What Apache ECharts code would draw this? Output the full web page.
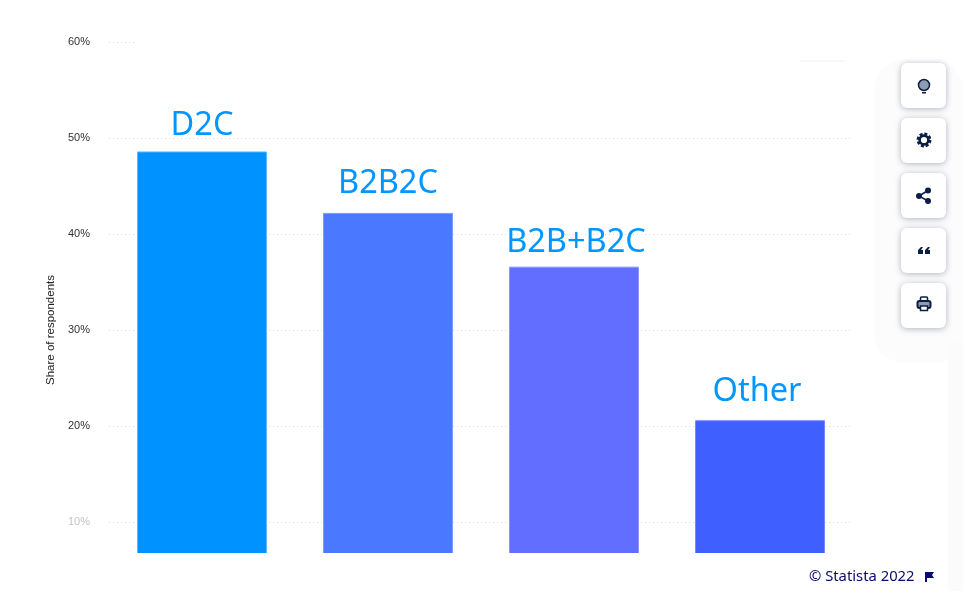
<!DOCTYPE html>
<html><head><meta charset="utf-8">
<style>html,body{margin:0;padding:0;background:#fff;overflow:hidden;width:963px;height:591px}#c{width:963px;height:640px}</style>
<script src="https://cdn.jsdelivr.net/npm/echarts@6/dist/echarts.min.js"></script>
</head><body><div id="c"></div>
<script>
const categories = ['D2C', 'B2B2C', 'B2B+B2C', 'Other'];
const shares = [48.6, 42.2, 36.6, 20.6];
const barColors = ['#0092ff', '#4a78ff', '#626eff', '#3f5fff'];
const edgeColors = ['#5cb8ff', '#7c9dff', '#8f95ff', '#7188ff'];
const labelNudges = [[0, 0], [0, -3], [2, 2], [-3, -3]];
const faintTicks = [10];

const chart = echarts.init(document.getElementById('c'), null, {renderer: 'canvas'});
const iconColor = '#0b1f44';
const btnTops = [63, 118, 173, 228, 283];
const buttons = btnTops.map(y => ({
  type: 'rect', z: 50, shape: {x: 901, y: y, width: 45, height: 45, r: 6},
  style: {fill: '#fff', shadowBlur: 6, shadowColor: 'rgba(40,50,80,0.35)', shadowOffsetY: 1}
}));
const quote = x => [[x,254],[x,250],[x+3,247],[x+5,247],[x+3,250],[x+5,250],[x+5,254]];
const icons = [
  {type:'circle', z:51, shape:{cx:924, cy:85, r:5.5}, style:{fill:'#8f9bb0', stroke:iconColor, lineWidth:1.5}},
  {type:'rect', z:51, shape:{x:922, y:92, width:4, height:1.5}, style:{fill:iconColor}},
  {type:'circle', z:51, shape:{cx:924, cy:140, r:6.2}, style:{fill:'none', stroke:iconColor, lineWidth:2.5, lineDash:[3,1.8]}},
  {type:'circle', z:51, shape:{cx:924, cy:140, r:4.4}, style:{fill:'#fff', stroke:iconColor, lineWidth:2.6}},
  {type:'circle', z:51, shape:{cx:919, cy:196, r:3}, style:{fill:iconColor}},
  {type:'circle', z:51, shape:{cx:928, cy:190.5, r:3}, style:{fill:iconColor}},
  {type:'circle', z:51, shape:{cx:928, cy:201, r:3}, style:{fill:iconColor}},
  {type:'polyline', z:51, shape:{points:[[928,190.5],[919,196],[928,201]]}, style:{stroke:iconColor, lineWidth:1.5, fill:'none'}},
  {type:'polygon', z:51, shape:{points:quote(918)}, style:{fill:iconColor}},
  {type:'polygon', z:51, shape:{points:quote(925)}, style:{fill:iconColor}},
  {type:'rect', z:51, shape:{x:920.5, y:297, width:7, height:5, r:1}, style:{fill:'#fff', stroke:iconColor, lineWidth:1.5}},
  {type:'rect', z:51, shape:{x:917.5, y:301, width:13, height:7, r:2}, style:{fill:'#8f9bb0', stroke:iconColor, lineWidth:2}},
  {type:'rect', z:51, shape:{x:920.5, y:306, width:7, height:4.5}, style:{fill:'#fff', stroke:iconColor, lineWidth:1.5}}
];
chart.setOption({
  animation: false,
  backgroundColor: '#fff',
  grid: {left: 109, top: 42, width: 744, height: 576, containLabel: false},
  xAxis: {type: 'category', data: categories, axisLine: {show: false}, axisTick: {show: false}, axisLabel: {show: false}},
  yAxis: {
    type: 'value', min: 0, max: 60, interval: 10,
    name: 'Share of respondents', nameLocation: 'middle', nameRotate: 90, nameGap: 52,
    nameTextStyle: {color: '#222', fontFamily: 'Liberation Sans', fontSize: 11.5},
    axisLine: {show: false}, axisTick: {show: false},
    axisLabel: {
      formatter: v => Number(v) === 0 ? '' : v + '%', margin: 19,
      fontFamily: 'Liberation Sans', fontSize: 11, padding: [3, 0, 0, 0],
      color: v => faintTicks.includes(Number(v)) ? '#c4c4c4' : '#333'
    },
    splitLine: {lineStyle: {type: [1, 3], color: '#dcdcdc', width: 1}}
  },
  series: [{
    type: 'bar', barWidth: 130, z: 3,
    data: shares.map((v, i) => ({
      value: v,
      itemStyle: {color: barColors[i], borderColor: edgeColors[i], borderWidth: 1},
      label: {offset: labelNudges[i]}
    })),
    label: {
      show: true, position: 'top', distance: 9.5, formatter: p => p.name,
      color: '#0096ff', fontFamily: 'Noto Sans', fontSize: 32.5
    }
  }],
  graphic: [
    {type: 'rect', z: 2, silent: true, shape: {x: 136, y: 40, width: 720, height: 4}, style: {fill: '#fff'}},
    {type: 'rect', z: 40, shape: {x: 0, y: 553, width: 963, height: 90}, style: {fill: '#fff'}},
    {type: 'rect', z: 41, shape: {x: 874, y: 60, width: 89, height: 303, r: 30}, style: {fill: '#fcfcfd'}},
    {type: 'rect', z: 41, shape: {x: 948, y: 340, width: 15, height: 251}, style: {fill: '#fbfbfb'}},
    {type: 'line', z: 41, shape: {x1: 800, y1: 61, x2: 845, y2: 61}, style: {stroke: '#f0f0f0', lineWidth: 1}},
    ...buttons, ...icons,
    {type: 'text', z: 51, x: 809, y: 569, style: {text: '\u00A9 Statista 2022', font: '14.8px "Noto Sans"', fill: '#0a0a6e'}},
    {type: 'polygon', z: 51, shape: {points: [[925,572],[925,582],[927,582],[927,578],[934,578],[932,575],[934,572]]}, style: {fill: '#0a0a6e'}}
  ]
});
</script></body></html>
